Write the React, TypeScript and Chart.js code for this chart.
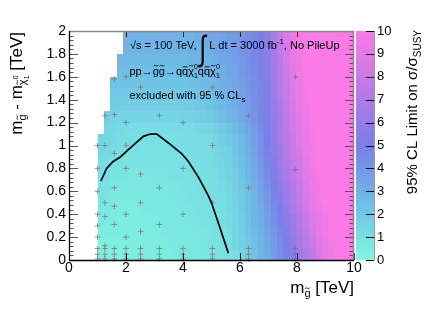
import React, { useEffect, useRef } from "react";
import { Chart, registerables } from "chart.js";

Chart.register(...registerables);

const FONT = "'Liberation Sans', Arial, Helvetica, sans-serif";

// ---- heat-map binning (TeV) ----
const X_BIN_START = 1.0;
const X_BIN_WIDTH = 0.225;
const Y_BIN_START = 0.0;
const Y_BIN_HEIGHT = 0.1;

// 95% CL limit on sigma/sigma_SUSY, one row per 0.1 TeV in m(gluino)-m(chi), 40 columns in m(gluino)
const limitY00 = [0.3,0.3,0.3,0.3,0.3,0.4,0.4,0.4,0.4,0.5,0.5,0.5,0.6,0.6,0.7,0.7,0.8,0.8,0.9,0.9,1.0,1.2,1.5,1.9,2.3,2.8,3.2,3.8,4.3,4.9,5.5,6.3,7.0,7.8,8.5,9.2,9.6,10,10,10];
const limitY01 = [0.3,0.3,0.3,0.3,0.4,0.4,0.4,0.4,0.5,0.5,0.5,0.6,0.6,0.6,0.7,0.7,0.8,0.9,0.9,1.0,1.1,1.4,1.7,2.1,2.5,2.9,3.4,3.9,4.5,5.1,5.8,6.6,7.3,8.1,8.8,9.3,9.8,10,10,10];
const limitY02 = [0.4,0.4,0.4,0.4,0.4,0.4,0.4,0.5,0.5,0.5,0.6,0.6,0.6,0.7,0.7,0.8,0.8,0.9,1.0,1.0,1.2,1.5,1.8,2.2,2.6,3.1,3.6,4.1,4.7,5.3,6.1,6.9,7.6,8.4,9.1,9.5,10,10,10,10];
const limitY03 = [0.6,0.5,0.5,0.4,0.4,0.5,0.5,0.5,0.5,0.6,0.6,0.6,0.7,0.7,0.8,0.8,0.9,1.0,1.0,1.1,1.3,1.6,1.9,2.3,2.8,3.2,3.7,4.3,4.9,5.6,6.4,7.2,7.9,8.7,9.2,9.7,10,10,10,10];
const limitY04 = [0.8,0.7,0.6,0.5,0.5,0.5,0.5,0.6,0.6,0.6,0.6,0.7,0.7,0.8,0.8,0.9,0.9,1.0,1.0,1.2,1.4,1.6,2.0,2.4,2.8,3.3,3.9,4.5,5.2,5.9,6.7,7.5,8.2,9.0,9.4,9.9,10,10,10,10];
const limitY05 = [0.9,0.8,0.7,0.6,0.6,0.6,0.6,0.6,0.7,0.7,0.7,0.8,0.8,0.8,0.9,0.9,1.0,1.0,1.1,1.2,1.4,1.7,2.0,2.5,2.9,3.5,4.1,4.7,5.5,6.2,7.0,7.7,8.5,9.1,9.6,10,10,10,10,10];
const limitY06 = [1.0,0.9,0.8,0.7,0.7,0.7,0.7,0.7,0.7,0.8,0.8,0.8,0.8,0.9,0.9,1.0,1.0,1.0,1.1,1.3,1.5,1.8,2.2,2.6,3.1,3.7,4.3,5.0,5.8,6.5,7.2,8.0,8.7,9.3,9.7,10,10,10,10,10];
const limitY07 = [1.1,1.0,0.9,0.9,0.8,0.8,0.8,0.8,0.8,0.8,0.8,0.9,0.9,0.9,1.0,1.0,1.0,1.1,1.2,1.4,1.6,1.9,2.3,2.8,3.3,3.9,4.5,5.3,6.0,6.8,7.5,8.3,9.0,9.4,9.9,10,10,10,10,10];
const limitY08 = [1.2,1.1,1.0,1.0,0.9,0.9,0.9,0.9,0.9,0.9,0.9,0.9,1.0,1.0,1.0,1.0,1.1,1.2,1.3,1.5,1.7,2.1,2.4,2.9,3.4,4.0,4.7,5.5,6.2,7.0,7.7,8.5,9.1,9.6,10,10,10,10,10,10];
const limitY09 = [1.4,1.3,1.2,1.1,1.0,1.0,1.0,0.9,0.9,0.9,0.9,1.0,1.0,1.0,1.0,1.1,1.1,1.2,1.4,1.6,1.8,2.2,2.6,3.0,3.6,4.2,4.9,5.7,6.4,7.2,7.9,8.7,9.3,9.7,10,10,10,10,10,10];
const limitY10 = [1.5,1.4,1.3,1.2,1.1,1.0,1.0,1.0,1.0,1.0,1.0,1.0,1.0,1.0,1.1,1.1,1.2,1.3,1.5,1.7,2.0,2.3,2.7,3.2,3.7,4.3,5.0,5.8,6.6,7.4,8.1,8.9,9.4,9.8,10,10,10,10,10,10];
const limitY11 = [null,1.5,1.4,1.3,1.2,1.2,1.2,1.2,1.2,1.2,1.2,1.2,1.2,1.2,1.2,1.3,1.4,1.6,1.8,2.0,2.2,2.6,3.0,3.4,3.9,4.5,5.1,5.9,6.7,7.5,8.3,9.0,9.5,9.9,10,10,10,10,10,10];
const limitY12 = [null,1.7,1.6,1.6,1.5,1.5,1.5,1.5,1.5,1.5,1.5,1.5,1.5,1.6,1.6,1.7,1.8,2.0,2.2,2.4,2.7,3.0,3.3,3.7,4.1,4.6,5.2,6.0,6.8,7.6,8.4,9.1,9.6,10,10,10,10,10,10,10];
const limitY13 = [null,null,1.9,1.9,1.8,1.8,1.8,1.8,1.8,1.8,1.8,1.8,1.8,1.9,1.9,2.0,2.1,2.3,2.5,2.7,2.9,3.2,3.5,3.9,4.3,4.7,5.3,6.1,6.9,7.8,8.6,9.2,9.7,10,10,10,10,10,10,10];
const limitY14 = [null,null,2.1,2.1,2.0,2.0,2.0,2.0,2.0,2.0,2.0,2.0,2.1,2.1,2.2,2.3,2.4,2.5,2.7,2.9,3.1,3.4,3.6,4.0,4.3,4.8,5.4,6.3,7.1,7.9,8.8,9.3,9.8,10,10,10,10,10,10,10];
const limitY15 = [null,null,2.4,2.3,2.3,2.3,2.3,2.3,2.3,2.3,2.3,2.3,2.3,2.3,2.4,2.5,2.6,2.7,2.9,3.1,3.3,3.5,3.8,4.1,4.4,4.8,5.5,6.4,7.2,8.1,8.9,9.4,9.9,10,10,10,10,10,10,10];
const limitY16 = [null,null,null,2.5,2.5,2.5,2.5,2.5,2.5,2.5,2.5,2.5,2.5,2.5,2.6,2.7,2.8,2.9,3.0,3.2,3.4,3.6,3.9,4.2,4.5,4.9,5.6,6.5,7.3,8.2,9.0,9.5,9.9,10,10,10,10,10,10,10];
const limitY17 = [null,null,null,2.7,2.7,2.7,2.7,2.7,2.7,2.7,2.7,2.7,2.7,2.7,2.8,2.9,2.9,3.1,3.2,3.4,3.5,3.8,4.0,4.3,4.6,4.9,5.6,6.6,7.4,8.4,9.1,9.6,10,10,10,10,10,10,10,10];
const limitY18 = [null,null,null,null,2.9,2.9,2.9,2.9,2.9,2.9,2.9,2.9,2.9,2.9,3.0,3.0,3.1,3.2,3.4,3.5,3.7,3.9,4.1,4.4,4.6,4.9,5.7,6.7,7.6,8.6,9.2,9.7,10,10,10,10,10,10,10,10];
const limitY19 = [null,null,null,null,3.0,3.0,3.0,3.0,3.0,3.0,3.0,3.0,3.0,3.1,3.1,3.2,3.3,3.4,3.5,3.6,3.8,4.0,4.2,4.4,4.7,5.0,5.9,6.8,7.8,8.7,9.3,9.8,10,10,10,10,10,10,10,10];

const limitRows: (number | null)[][] = [
  limitY00, limitY01, limitY02, limitY03, limitY04, limitY05, limitY06, limitY07, limitY08, limitY09,
  limitY10, limitY11, limitY12, limitY13, limitY14, limitY15, limitY16, limitY17, limitY18, limitY19,
];

// ---- exclusion contour (limit = 1) ----
const contourX = [1.12, 1.32, 1.55, 1.8, 2.2, 2.61, 2.85, 3.08, 3.5, 3.95, 4.19, 4.55, 4.89, 5.0, 5.3, 5.59];
const contourY = [0.69, 0.80, 0.86, 0.90, 0.99, 1.08, 1.10, 1.10, 1.02, 0.93, 0.86, 0.72, 0.56, 0.5, 0.28, 0.06];

// ---- signal grid points ----
const pointX = [
  1.0, 1.0, 1.0, 1.0, 1.0, 1.0, 1.0, 1.0, 1.0,
  1.26, 1.26, 1.26, 1.26, 1.26, 1.26, 1.26, 1.26,
  1.59, 1.59, 1.59, 1.59, 1.59, 1.59, 1.59, 1.59, 1.59,
  2.0, 2.0, 2.0, 2.0, 2.0, 2.0, 2.0, 2.0, 2.0,
  2.51, 2.51, 2.51, 2.51, 2.51, 2.51, 2.51,
  3.17, 3.17, 3.17, 3.17, 3.17, 3.17,
  4.0, 4.0, 4.0, 4.0, 4.0, 4.0,
  5.03, 5.03, 5.03, 5.03, 5.03, 5.03,
  6.3, 6.3, 6.3, 6.3, 6.3,
  7.94, 7.94, 7.94, 7.94, 7.94,
];
const pointY = [
  0.01, 0.05, 0.1, 0.2, 0.3, 0.4, 0.6, 0.8, 1.0,
  0.01, 0.05, 0.1, 0.125, 0.38, 0.5, 1.0, 1.26,
  0.01, 0.05, 0.1, 0.31, 0.47, 0.63, 0.93, 1.27, 1.58,
  0.01, 0.05, 0.1, 0.2, 0.4, 0.8, 1.0, 1.2, 1.6,
  0.01, 0.05, 0.1, 0.25, 0.5, 0.75, 1.51,
  0.01, 0.05, 0.1, 0.31, 0.63, 1.26,
  0.01, 0.05, 0.1, 0.4, 0.8, 1.2,
  0.01, 0.05, 0.1, 0.5, 1.0, 1.51,
  0.01, 0.05, 0.1, 0.63, 1.26,
  0.01, 0.05, 0.1, 0.79, 1.6,
];

// ---- ticks ----
const xTickValues = [0, 2, 4, 6, 8, 10];
const xTickLabels = ["0", "2", "4", "6", "8", "10"];
const yTickValues = [0, 0.2, 0.4, 0.6, 0.8, 1, 1.2, 1.4, 1.6, 1.8, 2];
const yTickLabels = ["0", "0.2", "0.4", "0.6", "0.8", "1", "1.2", "1.4", "1.6", "1.8", "2"];
const zTickValues = [0, 1, 2, 3, 4, 5, 6, 7, 8, 9, 10];
const zTickLabels = ["0", "1", "2", "3", "4", "5", "6", "7", "8", "9", "10"];

// ---- palette ----
const paletteStops = [0, 2.5, 5, 7.5, 10];
const paletteRGB = [
  [127, 247, 224],
  [110, 190, 230],
  [122, 126, 232],
  [190, 121, 232],
  [250, 122, 230],
];

function paletteColor(v: number): string {
  const c = Math.max(0, Math.min(10, v));
  let k = 0;
  while (k < paletteStops.length - 2 && c > paletteStops[k + 1]) k++;
  const f = (c - paletteStops[k]) / (paletteStops[k + 1] - paletteStops[k]);
  const a = paletteRGB[k];
  const b = paletteRGB[k + 1];
  return `rgb(${Math.round(a[0] + (b[0] - a[0]) * f)},${Math.round(a[1] + (b[1] - a[1]) * f)},${Math.round(a[2] + (b[2] - a[2]) * f)})`;
}

type Seg = { t: string; size: number; dy?: number; deco?: "tilde" | "bar"; stack?: boolean; sy?: number };

function drawTilde(ctx: CanvasRenderingContext2D, cx: number, cy: number, w: number, lw: number) {
  ctx.save();
  ctx.lineWidth = lw;
  ctx.beginPath();
  ctx.moveTo(cx - w / 2, cy + w * 0.12);
  ctx.bezierCurveTo(cx - w * 0.15, cy - w * 0.4, cx + w * 0.15, cy + w * 0.4, cx + w / 2, cy - w * 0.12);
  ctx.stroke();
  ctx.restore();
}

function drawSegs(ctx: CanvasRenderingContext2D, segs: Seg[], x: number, y: number, draw = true): number {
  let cx = x;
  let stackW = 0;
  for (const s of segs) {
    ctx.font = `${s.size}px ${FONT}`;
    const w = ctx.measureText(s.t).width;
    const by = y + (s.dy ?? 0);
    if (draw) {
      if (s.sy) {
        ctx.save();
        ctx.translate(cx, by);
        ctx.scale(1, s.sy);
        ctx.fillText(s.t, 0, 0);
        ctx.restore();
      } else {
        ctx.fillText(s.t, cx, by);
      }
      if (s.deco === "tilde") drawTilde(ctx, cx + w / 2, by - s.size * 0.8, w * 0.8, Math.max(0.8, s.size / 13));
      if (s.deco === "bar") {
        ctx.save();
        ctx.lineWidth = Math.max(0.8, s.size / 13);
        ctx.beginPath();
        ctx.moveTo(cx + w * 0.1, by - s.size * 0.7);
        ctx.lineTo(cx + w * 0.9, by - s.size * 0.7);
        ctx.stroke();
        ctx.restore();
      }
    }
    if (s.stack) {
      stackW = Math.max(stackW, w);
    } else {
      cx += Math.max(w, stackW);
      stackW = 0;
    }
  }
  return cx - x;
}

const line1: Seg[] = [
  { t: "\u221As = 100 TeV, ", size: 11 },
  { t: "\u222B", size: 24, dy: 11, sy: 1.45 },
  { t: " L dt = 3000 fb", size: 11 },
  { t: "-1", size: 8, dy: -5 },
  { t: ", No PileUp", size: 11 },
];
const line2: Seg[] = [
  { t: "pp", size: 11 },
  { t: "\u2192", size: 11 },
  { t: "g", size: 11, deco: "tilde" },
  { t: "g", size: 11, deco: "tilde" },
  { t: "\u2192", size: 11 },
  { t: "q", size: 11 },
  { t: "q", size: 11, deco: "bar" },
  { t: "\u03C7", size: 11, deco: "tilde" },
  { t: "0", size: 7, dy: -6, stack: true },
  { t: "1", size: 7, dy: 3 },
  { t: "q", size: 11 },
  { t: "q", size: 11, deco: "bar" },
  { t: "\u03C7", size: 11, deco: "tilde" },
  { t: "0", size: 7, dy: -6, stack: true },
  { t: "1", size: 7, dy: 3 },
];
const line3: Seg[] = [
  { t: "excluded with 95 % CL", size: 11 },
  { t: "s", size: 8, dy: 3 },
];
const xTitle: Seg[] = [
  { t: "m", size: 17 },
  { t: "g", size: 11, dy: 4, deco: "tilde" },
  { t: " [TeV]", size: 17 },
];
const yTitle: Seg[] = [
  { t: "m", size: 17 },
  { t: "g", size: 11, dy: 4, deco: "tilde" },
  { t: " - m", size: 17 },
  { t: "\u03C7", size: 11, dy: 4, deco: "tilde" },
  { t: "0", size: 7, dy: -4, stack: true },
  { t: "1", size: 7, dy: 7 },
  { t: " [TeV]", size: 17 },
];
const zTitle: Seg[] = [
  { t: "95% CL Limit on \u03C3/\u03C3", size: 15 },
  { t: "SUSY", size: 10, dy: 4 },
];

const heatmapPlugin = {
  id: "heatmap",
  beforeDatasetsDraw(chart: any) {
    const { ctx } = chart;
    const xs = chart.scales.x;
    const ys = chart.scales.y;
    ctx.save();
    limitRows.forEach((row, r) => {
      const yb = ys.getPixelForValue(Y_BIN_START + r * Y_BIN_HEIGHT);
      const yt = ys.getPixelForValue(Y_BIN_START + (r + 1) * Y_BIN_HEIGHT);
      row.forEach((v, i) => {
        if (v === null || v === undefined) return;
        const xl = xs.getPixelForValue(X_BIN_START + i * X_BIN_WIDTH);
        const xr = xs.getPixelForValue(X_BIN_START + (i + 1) * X_BIN_WIDTH);
        ctx.fillStyle = paletteColor(v);
        const x0 = Math.round(xl);
        const y0 = Math.round(yt);
        ctx.fillRect(x0, y0, Math.round(xr) - x0, Math.round(yb) - y0);
      });
    });
    ctx.restore();
  },
};

const framePlugin = {
  id: "frame",
  afterDatasetsDraw(chart: any) {
    const { ctx, chartArea } = chart;
    const { left, right, top, bottom } = chartArea;
    const xs = chart.scales.x;
    const ys = chart.scales.y;
    const seg = (x0: number, y0: number, x1: number, y1: number) => {
      ctx.beginPath();
      ctx.moveTo(x0, y0);
      ctx.lineTo(x1, y1);
      ctx.stroke();
    };
    ctx.save();
    ctx.lineWidth = 1;
    // y ticks, left and right (5 subdivisions per major)
    ctx.strokeStyle = "#555";
    const nMinor = (yTickValues.length - 1) * 5;
    for (let k = 0; k <= nMinor; k++) {
      const v = yTickValues[0] + (k * (yTickValues[1] - yTickValues[0])) / 5;
      const py = Math.round(ys.getPixelForValue(v)) + 0.5;
      const len = k % 5 === 0 ? 9 : 4.5;
      seg(left, py, left + len, py);
      seg(right, py, right - len, py);
    }
    // x ticks
    ctx.strokeStyle = "#222";
    xTickValues.forEach((v) => {
      const px = Math.round(xs.getPixelForValue(v)) + 0.5;
      seg(px, bottom, px, bottom - 7);
      if (v !== xTickValues[0] && v !== xTickValues[xTickValues.length - 1]) seg(px, top, px, top + 6);
    });
    // frame
    ctx.strokeStyle = "#888";
    ctx.lineWidth = 1.5;
    seg(left, top + 0.5, right, top + 0.5);
    seg(right - 0.5, top, right - 0.5, bottom);
    ctx.strokeStyle = "#000";
    ctx.lineWidth = 1.3;
    seg(left + 0.5, top, left + 0.5, bottom);
    seg(left, bottom + 0.5, right, bottom + 0.5);
    ctx.restore();
  },
  afterDraw(chart: any) {
    const { ctx, chartArea } = chart;
    const { right } = chartArea;
    const zs = chart.scales.z;
    ctx.save();
    // colour bar
    const bx0 = right + 2;
    const bx1 = right + 20;
    for (let py = Math.round(zs.top); py < Math.round(zs.bottom); py++) {
      ctx.fillStyle = paletteColor(zs.getValueForPixel(py + 0.5));
      ctx.fillRect(bx0, py, bx1 - bx0, 1);
    }
    ctx.strokeStyle = "#999";
    ctx.lineWidth = 1;
    ctx.beginPath();
    ctx.moveTo(bx1 + 0.5, zs.top);
    ctx.lineTo(bx1 + 0.5, zs.bottom);
    ctx.stroke();
    ctx.strokeStyle = "#000";
    zTickValues.forEach((v) => {
      const py = Math.round(zs.getPixelForValue(v)) + 0.5;
      ctx.beginPath();
      ctx.moveTo(bx1, py);
      ctx.lineTo(bx1 - 8, py);
      ctx.stroke();
    });

    // texts
    ctx.fillStyle = "#000";
    ctx.strokeStyle = "#000";
    ctx.textBaseline = "alphabetic";
    ctx.textAlign = "left";
    drawSegs(ctx, line1, 130, 49);
    drawSegs(ctx, line2, 129.5, 74.5);
    drawSegs(ctx, line3, 129.5, 99);

    // x title, right aligned to plot edge
    const wx = drawSegs(ctx, xTitle, 0, 0, false);
    drawSegs(ctx, xTitle, right - wx, 293);

    // y title (rotated), ending near the top of the frame
    const wy = drawSegs(ctx, yTitle, 0, 0, false);
    ctx.save();
    ctx.translate(22, 32);
    ctx.rotate(-Math.PI / 2);
    drawSegs(ctx, yTitle, -wy, 0);
    ctx.restore();

    // colour-bar title
    const wz = drawSegs(ctx, zTitle, 0, 0, false);
    ctx.save();
    ctx.translate(417, 30);
    ctx.rotate(-Math.PI / 2);
    drawSegs(ctx, zTitle, -wz, 0);
    ctx.restore();

    ctx.restore();
  },
};

export default function App() {
  const canvasRef = useRef<HTMLCanvasElement | null>(null);

  useEffect(() => {
    document.body.style.margin = "0";
    const canvas = canvasRef.current;
    if (!canvas) return;
    const contour = contourX.map((x, i) => ({ x, y: contourY[i] }));
    const points = pointX.map((x, i) => ({ x, y: pointY[i] }));
    const tickFont = { family: FONT, size: 14 };
    const chart = new Chart(canvas, {
      type: "scatter",
      data: {
        datasets: [
          {
            data: contour,
            showLine: true,
            borderColor: "#000",
            borderWidth: 1.7,
            pointRadius: 0,
            tension: 0,
            fill: false,
          } as any,
          {
            data: points,
            pointStyle: "cross",
            pointRadius: 2.8,
            borderColor: "rgba(120,120,120,0.75)",
            borderWidth: 1,
            clip: false,
          } as any,
        ],
      },
      options: {
        responsive: false,
        animation: false,
        devicePixelRatio: 1,
        layout: { padding: { top: 31, left: 0, right: 0, bottom: 0 } },
        plugins: { legend: { display: false }, tooltip: { enabled: false } },
        events: [],
        scales: {
          x: {
            type: "linear",
            position: "bottom",
            min: 0,
            max: 10,
            afterFit: (s: any) => { s.height = 50; },
            afterBuildTicks: (s: any) => { s.ticks = xTickValues.map((value) => ({ value })); },
            grid: { display: false, drawTicks: false },
            border: { display: false },
            ticks: {
              padding: 0,
              font: tickFont,
              color: "#000",
              maxRotation: 0,
              autoSkip: false,
              callback: (_v: any, i: number) => xTickLabels[i],
            },
          },
          y: {
            type: "linear",
            position: "left",
            min: 0,
            max: 2,
            afterFit: (s: any) => { s.width = 69; },
            afterBuildTicks: (s: any) => { s.ticks = yTickValues.map((value) => ({ value })); },
            grid: { display: false, drawTicks: false },
            border: { display: false },
            ticks: {
              padding: 3,
              font: tickFont,
              color: "#000",
              autoSkip: false,
              callback: (_v: any, i: number) => yTickLabels[i],
            },
          },
          z: {
            type: "linear",
            position: "right",
            min: 0,
            max: 10,
            afterFit: (s: any) => { s.width = 78; },
            afterBuildTicks: (s: any) => { s.ticks = zTickValues.map((value) => ({ value })); },
            grid: { display: false, drawTicks: false },
            border: { display: false },
            ticks: {
              padding: 23,
              font: { family: FONT, size: 13 },
              color: "#000",
              autoSkip: false,
              callback: (_v: any, i: number) => zTickLabels[i],
            },
          },
        },
      } as any,
      plugins: [heatmapPlugin, framePlugin],
    });
    return () => chart.destroy();
  }, []);

  return (
    <div style={{ width: 432, height: 310 }}>
      <canvas ref={canvasRef} width={432} height={310} style={{ display: "block" }} />
    </div>
  );
}
